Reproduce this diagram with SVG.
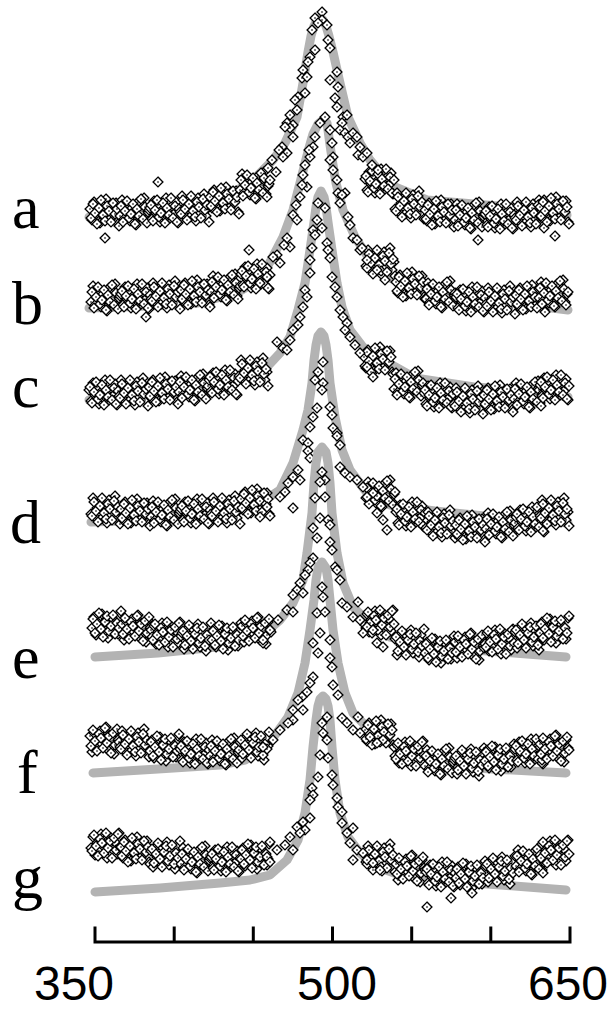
<svg xmlns="http://www.w3.org/2000/svg" xmlns:xlink="http://www.w3.org/1999/xlink" width="612" height="1010" viewBox="0 0 612 1010">
<style>
.fit{fill:none;stroke:#b3b3b3;stroke-width:9;stroke-linecap:round;stroke-linejoin:round}
.pts{fill:none;stroke:none;marker-start:url(#dm);marker-mid:url(#dm);marker-end:url(#dm)}
.lbl{font-family:"Liberation Serif","Times New Roman",serif;font-size:62px;fill:#000}
.num{font-family:"Liberation Sans",Arial,sans-serif;font-size:48px;fill:#000;text-anchor:middle}
.ax{stroke:#000;stroke-width:3;fill:none;stroke-linecap:square}
</style>
<defs>
<marker id="dm" markerUnits="userSpaceOnUse" viewBox="0 0 12 12" markerWidth="12" markerHeight="12" refX="6" refY="6" orient="0" overflow="visible">
<path d="M6,1.1L10.9,6L6,10.9L1.1,6Z" fill="#fff" stroke="#000" stroke-width="1.35"/>
<rect x="5.3" y="5.3" width="1.4" height="1.4" fill="#000"/>
</marker>
<path id="k1" class="pts" d="M0,-3L2,8L4,-10L6,2L8,-6L10,11L12,-1L14,5L16,-13L18,0L20,7L22,-5L24,3L26,-9L28,12"/>
<path id="k2" class="pts" d="M1,6L3,-8L5,1L7,12L9,-4L11,-12L13,3L15,9L17,-6L19,-1L21,10L23,-9L25,2L27,-3L29,14"/>
<path id="k3" class="pts" d="M0,4L2,-12L4,7L6,-2L8,-7L10,9L12,-4L14,1L16,13L18,-10L20,5L22,-1L24,-14L26,8L28,0"/>
<path id="k4" class="pts" d="M1,-6L3,10L5,-1L7,-11L9,6L11,2L13,-8L15,12L17,-3L19,4L21,-13L23,7L25,-5L27,11L29,-2"/>
<g id="s1"><use href="#k1"/><use href="#k2"/></g>
<g id="s2"><use href="#k3"/><use href="#k4"/></g>
<g id="s3"><use href="#k1"/><use href="#k4"/></g>
<g id="s4"><use href="#k3"/><use href="#k2"/></g>
</defs>
<rect width="612" height="1010" fill="#fff"/>

<g id="spectrum-a">
<path class="fit" d="M89,217L150,214L198,207L230,195L253,180L273,160L285,143L297,117L303,83L308,52L311,36L314,26L317,20L320,18L323,20L326,26L329,36L333,52L340,83L348,117L360,143L370,160L380,172L395,187L427,200L474,204L520,208L567,215"/>
<use href="#s1" x="90" y="212"/><use href="#s2" x="120" y="212"/><use href="#s3" x="150" y="211"/><use href="#s4" x="180" y="208"/><use href="#s1" x="210" y="200"/><use href="#s2" x="240" y="186"/>
<use href="#s3" x="365" y="182"/><use href="#s4" x="395" y="205"/><use href="#s1" x="425" y="213"/><use href="#s2" x="455" y="216"/><use href="#s3" x="485" y="217"/><use href="#s4" x="515" y="214"/><use href="#s1" x="540" y="210"/>
<path class="pts" d="M322,12L315,18L322,20L327,25L318,23L312,30L328,40L330,48L315,50L310,57L308,62L337,72L330,80L338,87L303,70L302,78L307,77L305,93L298,97L295,100L335,98L337,107L297,110L290,115L287,123L293,125L343,117L347,115L342,123L290,128L285,127L293,137L340,130L345,133L348,137L353,133L357,137L350,143L360,147L282,147L287,153L283,157L358,155L363,157L367,153L268,168L272,160L276,172L264,178L279,150L270,180L372,165L378,170"/>
<path class="pts" d="M158,182L105,238L478,240L555,236"/>
<text class="lbl" x="12" y="228">a</text>
</g>

<g id="spectrum-b">
<path class="fit" d="M89,308L150,306L198,303L237,293L260,279L270,262L283,237L293,210L300,183L305,163L309,148L313,134L318,124L323,120L327,123L328,130L330,145L333,165L336,183L343,210L355,237L370,260L390,278L420,292L460,300L520,304L568,310"/>
<use href="#s2" x="91" y="298"/><use href="#s3" x="121" y="297"/><use href="#s4" x="151" y="295"/><use href="#s1" x="181" y="293"/><use href="#s2" x="211" y="288"/><use href="#s3" x="241" y="277"/>
<use href="#s4" x="366" y="262"/><use href="#s1" x="396" y="285"/><use href="#s2" x="426" y="295"/><use href="#s3" x="456" y="300"/><use href="#s4" x="486" y="300"/><use href="#s1" x="516" y="298"/><use href="#s2" x="539" y="294"/>
<path class="pts" d="M325,117L320,123L315,137L313,147L310,157L330,130L332,143L333,157L309,150L305,165L303,175L307,187L302,185L300,197L296,205L293,215L297,220L287,238L290,247L284,245L277,255L273,257L280,263L267,277L260,283L330,160L333,170L337,180L338,193L345,193L342,195L340,203L348,217L350,225L353,238L357,240L360,250L362,248L367,260L377,270L385,280"/>
<path class="pts" d="M249,250L146,317"/>
<text class="lbl" x="12" y="324">b</text>
</g>

<g id="spectrum-c">
<path class="fit" d="M89,400L150,395L198,390L245,376L267,367L280,353L290,337L298,310L305,283L310,250L314,222L316,207L318,197L321,191L324,197L326,207L328,222L332,250L337,283L342,307L350,330L363,347L383,360L415,378L474,387L520,390L568,397"/>
<use href="#s3" x="89" y="393"/><use href="#s4" x="119" y="392"/><use href="#s1" x="149" y="390"/><use href="#s2" x="179" y="388"/><use href="#s3" x="209" y="383"/><use href="#s4" x="239" y="372"/>
<use href="#s1" x="364" y="360"/><use href="#s2" x="394" y="385"/><use href="#s3" x="424" y="396"/><use href="#s4" x="454" y="400"/><use href="#s1" x="484" y="398"/><use href="#s2" x="514" y="395"/><use href="#s3" x="540" y="388"/>
<path class="pts" d="M318,203L325,208L317,220L313,230L322,228L315,235L312,248L327,243L328,250L310,260L330,258L310,273L332,277L335,287L305,290L307,297L337,297L303,307L340,310L300,317L343,317L347,323L298,325L293,330L345,330L350,337L290,340L277,342L355,345L283,348L287,350L360,353L367,367L373,377"/>
<text class="lbl" x="12" y="407">c</text>
</g>

<g id="spectrum-d">
<path class="fit" d="M91,522L150,520L198,518L240,510L260,503L280,490L293,463L303,430L308,410L312,383L314,360L316,345L318,336L321,332L324,336L326,345L328,360L330,383L335,417L342,450L350,470L367,493L390,505L435,511L494,517L568,523"/>
<use href="#s4" x="91" y="510"/><use href="#s1" x="121" y="512"/><use href="#s2" x="151" y="513"/><use href="#s3" x="181" y="512"/><use href="#s4" x="211" y="510"/><use href="#s1" x="241" y="502"/>
<use href="#s2" x="366" y="494"/><use href="#s3" x="396" y="515"/><use href="#s4" x="426" y="524"/><use href="#s1" x="456" y="528"/><use href="#s2" x="486" y="525"/><use href="#s3" x="516" y="520"/><use href="#s4" x="540" y="512"/>
<path class="pts" d="M323,362L318,372L315,380L323,383L322,390L317,408L313,417L330,407L332,415L310,427L333,428L337,433L303,440L308,443L337,436L340,445L308,451L310,458L298,470L340,467L293,477L300,480L345,473L350,477L357,480L288,483L285,492L363,487L373,493L280,497L367,497L293,508L267,507L377,513L260,517L383,520L387,530"/>
<text class="lbl" x="10" y="543">d</text>
</g>

<g id="spectrum-e">
<path class="fit" d="M95,657L158,653L217,647L260,637L280,620L293,603L303,580L307,553L312,513L314,483L316,463L318,452L322,447L326,452L328,463L330,483L332,513L337,553L343,583L353,607L370,623L390,637L435,647L514,653L566,657"/>
<use href="#s1" transform="translate(92,625) scale(1,-1)"/><use href="#s2" transform="translate(122,628) scale(1,-1)"/><use href="#s3" transform="translate(152,634) scale(1,-1)"/><use href="#s4" transform="translate(182,637) scale(1,-1)"/><use href="#s1" transform="translate(212,637) scale(1,-1)"/><use href="#s2" transform="translate(242,630) scale(1,-1)"/>
<use href="#s3" transform="translate(365,622) scale(1,-1)"/><use href="#s4" transform="translate(395,643) scale(1,-1)"/><use href="#s1" transform="translate(425,650) scale(1,-1)"/><use href="#s2" transform="translate(455,646) scale(1,-1)"/><use href="#s3" transform="translate(485,641) scale(1,-1)"/><use href="#s4" transform="translate(515,636) scale(1,-1)"/><use href="#s1" transform="translate(540,630) scale(1,-1)"/>
<path class="pts" d="M322,472L325,480L320,482L315,498L325,497L320,518L328,520L330,525L313,528L317,538L330,542L332,550L313,558L310,563L308,570L335,567L337,570L305,575L340,580L300,583L297,590L303,593L293,595L342,603L358,602L347,607L287,610L293,612L353,617L278,620L360,620L367,627L270,630L373,630L363,633L263,640L377,643L383,647"/>
<text class="lbl" x="12" y="678">e</text>
</g>

<g id="spectrum-f">
<path class="fit" d="M93,773L158,769L220,765L245,760L262,750L273,738L288,717L298,693L305,663L310,630L314,600L316,580L318,568L322,562L326,568L328,580L330,600L333,630L338,663L345,693L353,713L370,730L390,743L415,755L474,768L566,773"/>
<use href="#s2" transform="translate(90,740) scale(1,-1)"/><use href="#s4" x="120" y="743"/><use href="#s1" transform="translate(150,748) scale(1,-1)"/><use href="#s3" x="180" y="752"/><use href="#s2" x="210" y="752"/><use href="#s4" transform="translate(240,746) scale(1,-1)"/>
<use href="#s1" x="365" y="733"/><use href="#s3" transform="translate(395,753) scale(1,-1)"/><use href="#s2" x="425" y="762"/><use href="#s4" transform="translate(455,762) scale(1,-1)"/><use href="#s1" transform="translate(485,758) scale(1,-1)"/><use href="#s3" x="515" y="752"/><use href="#s2" transform="translate(540,748) scale(1,-1)"/>
<path class="pts" d="M322,587L323,597L317,613L325,612L320,633L330,640L313,643L318,653L330,658L332,667L313,677L310,683L333,685L307,692L338,695L302,697L298,700L303,710L293,710L342,718L358,717L293,720L288,723L347,723L280,730L353,730L360,733L370,737L273,740L383,740L377,743L263,747"/>
<text class="lbl" x="17" y="793">f</text>
</g>

<g id="spectrum-g">
<path class="fit" d="M95,892L160,888L220,883L250,880L270,875L287,860L298,840L305,813L310,780L313,747L316,720L318,706L320,699L323,696L326,699L328,706L330,720L332,747L335,780L340,813L348,837L360,853L377,867L400,875L474,883L566,890"/>
<use href="#s3" transform="translate(91,845) scale(1,-1)"/><use href="#s1" x="121" y="850"/><use href="#s4" transform="translate(151,855) scale(1,-1)"/><use href="#s2" x="181" y="860"/><use href="#s3" x="211" y="860"/><use href="#s1" transform="translate(241,856) scale(1,-1)"/>
<use href="#s4" x="366" y="858"/><use href="#s2" transform="translate(396,868) scale(1,-1)"/><use href="#s3" x="426" y="875"/><use href="#s1" transform="translate(456,875) scale(1,-1)"/><use href="#s4" transform="translate(486,870) scale(1,-1)"/><use href="#s2" x="516" y="862"/><use href="#s3" transform="translate(540,852) scale(1,-1)"/>
<path class="pts" d="M327,717L322,723L323,733L327,740L320,755L328,758L332,775L318,777L333,785L312,788L313,795L337,798L310,800L338,807L342,812L310,818L303,822L342,823L297,827L353,828L305,830L300,833L347,833L290,837L350,843L285,845L293,850L277,850L357,850L363,853L267,857L353,860L367,860L270,862L373,863L380,870"/>
<path class="pts" d="M427,907L451,898L472,893"/>
<text class="lbl" x="12" y="898">g</text>
</g>

<g id="axis">
<path class="ax" d="M95,942H570M95,942V928M174.2,942V928M253.3,942V928M332.5,942V928M411.7,942V928M490.8,942V928M570,942V928"/>
<text class="num" x="74" y="1000">350</text>
<text class="num" x="337" y="1000">500</text>
<text class="num" x="568" y="1000">650</text>
</g>
</svg>
